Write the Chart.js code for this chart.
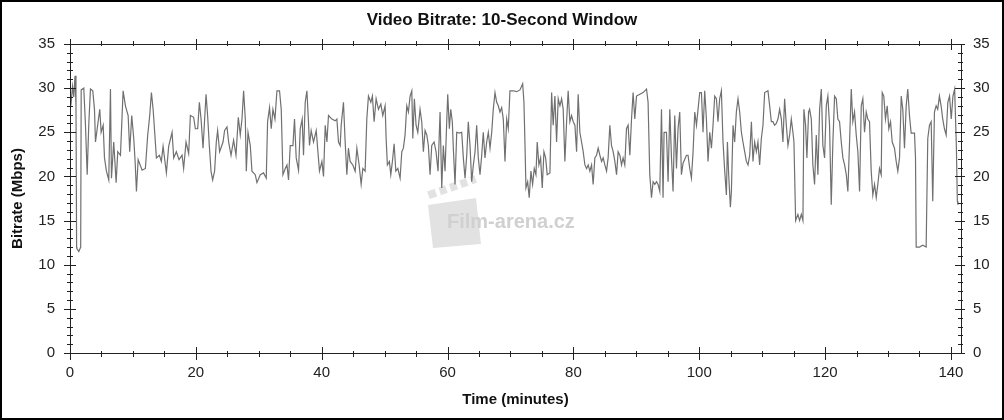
<!DOCTYPE html>
<html>
<head>
<meta charset="utf-8">
<title>Video Bitrate: 10-Second Window</title>
<script src="https://cdn.jsdelivr.net/npm/chart.js@4.4.1/dist/chart.umd.min.js"></script>
<style>
  html, body { margin: 0; padding: 0; background: #fff; }
  #wrap { width: 1004px; height: 420px; }
</style>
</head>
<body>
<div id="wrap"><canvas id="chart" width="1004" height="420"></canvas></div>
<script>
// time in minutes, bitrate in Mbps
const minutes = [
  0.0, 0.2, 0.4, 0.6, 0.8, 0.95, 1.05, 1.1, 1.4, 1.7,
  1.78, 2.19, 2.46, 2.73, 2.98, 3.25, 3.62, 3.89, 4.05, 4.32,
  4.73, 4.95, 5.27, 5.48, 5.79, 6.16, 6.43, 6.59, 6.95, 7.33,
  7.59, 8.02, 8.44, 8.81, 9.24, 9.49, 9.81, 10.13, 10.35, 10.56,
  10.83, 11.46, 11.98, 12.35, 12.67, 12.94, 13.21, 13.46, 13.73, 14.21,
  14.52, 14.79, 15.32, 15.68, 16.22, 16.48, 16.9, 17.33, 17.81, 18.06,
  18.44, 18.86, 19.13, 19.65, 19.92, 20.29, 20.56, 20.83, 21.14, 21.62,
  21.87, 22.14, 22.41, 22.67, 22.98, 23.25, 23.46, 23.78, 24.32, 24.57,
  24.95, 25.21, 25.59, 26.0, 26.38, 26.75, 27.06, 27.33, 27.59, 27.86,
  28.02, 28.29, 28.65, 28.92, 29.44, 29.71, 30.24, 30.76, 31.19, 31.4,
  31.71, 31.98, 32.25, 32.57, 32.89, 33.3, 33.57, 33.84, 34.21, 34.48,
  34.73, 35.0, 35.43, 35.68, 35.95, 36.32, 36.59, 36.9, 37.11, 37.38,
  37.65, 37.9, 38.06, 38.33, 38.7, 39.13, 39.4, 39.65, 40.03, 40.29,
  40.56, 40.83, 41.08, 41.62, 42.14, 42.41, 42.67, 42.94, 43.1, 43.46,
  43.73, 44.0, 44.25, 44.52, 44.95, 45.32, 45.59, 45.95, 46.27, 46.54,
  46.9, 47.17, 47.43, 47.81, 48.06, 48.33, 48.65, 49.02, 49.4, 49.71,
  50.08, 50.24, 50.44, 50.76, 50.98, 51.24, 51.51, 51.78, 52.1, 52.46,
  52.73, 52.98, 53.25, 53.52, 53.78, 54.05, 54.32, 54.48, 54.73, 55.0,
  55.27, 55.63, 55.9, 56.16, 56.43, 56.7, 56.95, 57.22, 57.49, 57.86,
  58.17, 58.49, 58.81, 59.08, 59.33, 59.6, 59.87, 60.03, 60.29, 60.51,
  60.76, 60.92, 61.19, 61.46, 61.87, 62.25, 62.51, 62.78, 63.05, 63.3,
  63.57, 63.84, 64.1, 64.37, 64.63, 64.89, 65.16, 65.43, 65.68, 65.95,
  66.22, 66.48, 66.75, 67.02, 67.27, 67.54, 67.81, 68.06, 68.33, 68.6,
  68.86, 69.13, 69.4, 69.65, 69.92, 70.44, 70.98, 71.51, 71.94, 72.14,
  72.3, 72.46, 72.73, 72.98, 73.25, 73.52, 73.78, 74.05, 74.25, 74.52,
  74.79, 75.05, 75.32, 75.59, 75.84, 76.27, 76.54, 76.79, 77.06, 77.33,
  77.59, 77.86, 78.13, 78.38, 78.65, 78.92, 79.17, 79.44, 79.71, 79.97,
  80.24, 80.51, 80.76, 81.03, 81.3, 81.56, 81.83, 82.1, 82.35, 82.62,
  82.89, 83.14, 83.41, 83.68, 83.94, 84.21, 84.48, 84.73, 85.0, 85.27,
  85.52, 85.79, 86.06, 86.32, 86.59, 86.86, 87.11, 87.38, 87.65, 87.9,
  88.17, 88.44, 88.7, 88.97, 89.24, 89.49, 89.76, 90.03, 90.56, 91.08,
  91.62, 91.87, 92.14, 92.41, 92.67, 92.94, 93.21, 93.46, 93.73, 94.0,
  94.25, 94.41, 94.79, 95.05, 95.32, 95.59, 95.84, 96.11, 96.38, 96.63,
  96.9, 97.17, 97.43, 97.97, 98.22, 98.49, 98.76, 99.02, 99.29, 99.56,
  99.81, 100.08, 100.35, 100.6, 100.87, 101.14, 101.4, 101.67, 101.94, 102.19,
  102.46, 102.73, 102.98, 103.25, 103.52, 103.78, 104.05, 104.32, 104.48, 104.68,
  104.95, 105.11, 105.37, 105.63, 105.9, 106.16, 106.43, 106.7, 106.95, 107.22,
  107.49, 107.75, 108.02, 108.29, 108.54, 108.81, 109.08, 109.33, 109.6, 109.87,
  110.13, 110.4, 110.92, 111.19, 111.46, 111.71, 111.98, 112.25, 112.51, 112.78,
  113.05, 113.3, 113.57, 113.84, 114.1, 114.37, 114.63, 114.89, 115.05, 115.32,
  115.68, 115.95, 116.22, 116.48, 116.63, 116.9, 117.11, 117.38, 117.54, 117.81,
  118.06, 118.33, 118.6, 118.86, 119.13, 119.4, 119.65, 119.92, 120.19, 120.44,
  120.71, 120.98, 121.24, 121.51, 121.78, 122.03, 122.3, 122.57, 122.83, 123.1,
  123.37, 123.62, 123.89, 124.16, 124.41, 124.68, 124.95, 125.21, 125.48, 125.75,
  126.0, 126.27, 126.54, 126.79, 127.06, 127.33, 127.59, 127.86, 128.13, 128.38,
  128.65, 128.92, 129.08, 129.33, 129.6, 129.87, 130.13, 130.4, 130.67, 131.03,
  131.3, 131.56, 131.83, 132.1, 132.35, 132.62, 132.89, 133.14, 133.41, 133.68,
  134.21, 134.37, 134.48, 135.0, 135.52, 136.06, 136.32, 136.59, 136.86, 137.11,
  137.38, 137.65, 137.9, 138.17, 138.44, 138.7, 138.97, 139.24, 139.51, 139.78,
  140.05, 140.32, 140.59, 140.86, 141.02, 141.11
];
const bitrate = [
  29.5, 28.5, 30.2, 29.0, 31.4, 28.0, 12.0, 11.8, 11.5, 12.0,
  29.8, 30.0, 25.8, 20.2, 25.8, 29.9, 29.7, 27.6, 23.9, 25.4,
  27.6, 25.0, 25.8, 22.1, 20.6, 19.6, 29.9, 19.8, 23.9, 19.3,
  22.8, 22.4, 29.7, 28.0, 26.9, 22.8, 26.9, 24.3, 21.7, 18.3,
  21.9, 20.7, 20.9, 24.7, 26.9, 29.5, 27.6, 25.0, 22.1, 22.4,
  21.7, 23.4, 20.4, 23.4, 25.0, 22.1, 22.8, 21.9, 22.4, 20.9,
  23.9, 22.6, 26.9, 26.7, 25.4, 25.4, 28.4, 26.5, 23.2, 29.3,
  26.9, 23.5, 20.6, 19.6, 20.6, 23.9, 25.2, 22.8, 23.9, 25.2,
  25.6, 23.9, 22.4, 24.1, 22.4, 26.7, 24.7, 26.5, 29.7, 26.5,
  20.6, 25.0, 23.5, 20.6, 20.2, 19.3, 20.2, 20.4, 19.8, 26.2,
  27.8, 25.4, 27.6, 26.5, 29.7, 29.7, 27.6, 20.2, 20.9, 21.3,
  19.6, 23.5, 23.5, 26.5, 22.1, 20.7, 25.4, 26.5, 22.4, 28.4,
  29.7, 26.2, 23.5, 25.2, 23.9, 25.2, 22.8, 20.6, 21.7, 20.0,
  25.8, 23.9, 26.9, 26.5, 26.3, 26.5, 23.9, 23.5, 25.8, 28.4,
  23.9, 20.2, 23.2, 21.7, 21.3, 20.6, 23.2, 21.3, 19.1, 20.9,
  20.6, 26.5, 29.1, 28.4, 29.1, 26.2, 28.8, 27.6, 28.2, 26.9,
  28.0, 24.3, 21.3, 21.7, 20.2, 21.7, 23.7, 20.6, 20.9, 19.8,
  22.8, 23.2, 24.7, 28.0, 27.3, 29.1, 29.7, 24.3, 28.8, 25.8,
  25.0, 27.6, 26.2, 22.8, 25.2, 24.7, 23.5, 20.2, 23.5, 23.9,
  22.8, 20.6, 27.3, 18.7, 23.5, 20.6, 26.2, 29.3, 25.4, 27.6,
  26.2, 23.2, 19.1, 25.0, 24.9, 25.0, 22.1, 19.8, 22.4, 26.2,
  23.5, 19.4, 21.3, 22.8, 25.8, 22.1, 20.2, 22.4, 25.0, 22.1,
  23.9, 25.0, 23.2, 25.0, 27.6, 29.5, 28.4, 28.0, 27.3, 27.8,
  26.5, 21.7, 26.5, 25.4, 29.7, 29.7, 29.6, 29.8, 30.5, 28.4,
  23.9, 18.7, 19.4, 17.6, 20.6, 19.1, 20.9, 20.2, 23.9, 21.3,
  22.1, 18.7, 22.8, 22.1, 20.2, 20.4, 29.5, 25.8, 29.1, 23.9,
  28.8, 28.0, 28.8, 27.6, 21.7, 26.2, 29.7, 26.2, 26.9, 26.2,
  25.8, 22.8, 29.3, 25.0, 23.9, 22.8, 21.3, 20.9, 21.3, 20.6,
  21.3, 19.1, 22.1, 22.4, 23.2, 22.4, 21.7, 22.1, 21.3, 20.6,
  22.1, 25.8, 23.5, 22.8, 21.7, 20.2, 22.8, 22.4, 21.3, 22.1,
  21.3, 25.4, 25.8, 22.4, 26.5, 29.5, 26.5, 29.1, 29.3, 29.5,
  29.9, 28.4, 20.2, 17.6, 19.4, 19.1, 19.4, 19.1, 18.3, 27.6,
  17.6, 25.0, 25.0, 19.4, 27.6, 22.1, 18.3, 26.9, 20.9, 25.4,
  27.3, 20.2, 21.5, 22.4, 22.4, 20.9, 19.8, 22.8, 27.3, 25.8,
  27.6, 29.5, 29.5, 25.0, 29.7, 26.5, 21.7, 25.0, 23.2, 25.8,
  29.1, 28.8, 26.2, 28.8, 29.7, 23.9, 20.6, 17.9, 23.9, 20.2,
  16.5, 18.3, 25.8, 23.9, 27.3, 28.8, 27.3, 25.0, 23.9, 22.8,
  21.7, 21.3, 22.4, 26.2, 21.7, 23.9, 22.8, 23.9, 21.3, 24.3,
  25.8, 29.5, 29.7, 28.0, 26.2, 26.2, 25.8, 26.0, 26.5, 27.6,
  26.5, 23.9, 28.8, 25.8, 23.5, 24.7, 26.5, 25.0, 23.9, 15.0,
  15.7, 15.0, 15.7, 15.0, 27.6, 25.8, 22.1, 27.3, 27.6, 26.5,
  21.3, 19.1, 24.7, 20.2, 27.6, 29.9, 23.5, 22.1, 28.0, 29.1,
  25.8, 16.8, 23.9, 29.1, 28.8, 26.5, 26.2, 23.9, 22.1, 21.3,
  20.2, 18.3, 23.9, 29.9, 26.2, 27.3, 24.7, 22.8, 18.3, 28.0,
  28.8, 25.0, 27.3, 26.5, 26.2, 20.6, 17.9, 19.1, 17.6, 19.1,
  20.9, 20.2, 29.5, 29.1, 26.5, 28.0, 25.4, 26.2, 23.9, 23.2,
  21.7, 20.6, 22.1, 29.1, 27.6, 23.2, 28.0, 29.9, 26.9, 24.9,
  24.9, 22.1, 12.0, 12.0, 12.2, 12.0, 24.3, 25.8, 26.2, 17.2,
  27.3, 28.0, 27.6, 29.1, 28.0, 26.5, 25.4, 24.7, 28.4, 29.1,
  26.5, 29.1, 29.9, 23.5, 17.2, 16.8
];
const xTickValues = [0, 20, 40, 60, 80, 100, 120, 140];
const yTickValues = [0, 5, 10, 15, 20, 25, 30, 35];

const FONT = "'Liberation Sans', Arial, sans-serif";

// box, crossing ticks, watermark and outer frame
const framePlugin = {
  id: 'frameTicks',
  beforeDatasetsDraw(chart) {
    const ctx = chart.ctx;
    ctx.save();
    ctx.fillStyle = '#e2e2e2';
    ctx.beginPath();
    ctx.moveTo(428, 205); ctx.lineTo(476, 198); ctx.lineTo(481, 244); ctx.lineTo(433, 248);
    ctx.closePath(); ctx.fill();
    ctx.save();
    ctx.translate(430, 200); ctx.rotate(-0.33);
    ctx.fillRect(0, -9, 50, 8);
    ctx.fillStyle = '#fff';
    for (let i = 0; i < 4; i++) ctx.fillRect(8 + i * 11, -9, 4, 8);
    ctx.restore();
    ctx.font = 'bold 20px ' + FONT;
    ctx.fillStyle = '#d0d0d0';
    ctx.textBaseline = 'alphabetic';
    ctx.fillText('Film-arena.cz', 447, 228);
    ctx.restore();
  },
  afterDraw(chart) {
    const {ctx, chartArea: a, scales} = chart;
    const x = scales.x, y = scales.y;
    ctx.save();
    ctx.strokeStyle = '#222';
    ctx.lineWidth = 1;
    ctx.strokeRect(Math.round(a.left) + 0.5, Math.round(a.top) + 0.5,
      Math.round(a.right - a.left), Math.round(a.bottom - a.top));
    ctx.beginPath();
    for (let v = 0; v <= 35; v++) {
      const py = Math.round(y.getPixelForValue(v)) + 0.5;
      const big = v % 5 === 0;
      const l = Math.round(a.left), r = Math.round(a.right);
      ctx.moveTo(l - (big ? 6 : 3), py); ctx.lineTo(l + (big ? 6 : 3), py);
      ctx.moveTo(r - (big ? 6 : 3), py); ctx.lineTo(r + (big ? 4 : 2), py);
    }
    for (let v = 0; v <= 140; v += 5) {
      const px = Math.round(x.getPixelForValue(v)) + 0.5;
      const big = v % 20 === 0;
      const b = Math.round(a.bottom), t = Math.round(a.top);
      ctx.moveTo(px, b - (big ? 6 : 2)); ctx.lineTo(px, b + (big ? 7 : 4));
      ctx.moveTo(px, t - (big ? 5 : 3)); ctx.lineTo(px, t + (big ? 6 : 2));
    }
    ctx.stroke();
    ctx.lineWidth = 2;
    ctx.strokeStyle = '#000';
    ctx.strokeRect(1, 1, chart.width - 2, chart.height - 2);
    ctx.restore();
  }
};

const tickFont = { family: FONT, size: 15 };
const titleFont = { family: FONT, size: 15, weight: 'bold' };

new Chart(document.getElementById('chart'), {
  type: 'line',
  data: {
    datasets: [{
      label: 'Bitrate',
      data: minutes.map((m, i) => ({ x: m, y: bitrate[i] })),
      borderColor: '#707070',
      borderWidth: 1.2,
      pointRadius: 0,
      tension: 0,
      fill: false
    }]
  },
  options: {
    responsive: false,
    animation: false,
    devicePixelRatio: 1,
    layout: { padding: 0 },
    plugins: {
      legend: { display: false },
      tooltip: { enabled: false },
      title: {
        display: true,
        text: 'Video Bitrate: 10-Second Window',
        color: '#111',
        font: { family: FONT, size: 17, weight: 'bold' },
        padding: { top: 10, bottom: 13.6 }
      }
    },
    scales: {
      x: {
        type: 'linear',
        min: 0,
        max: 141.6,
        afterBuildTicks: s => { s.ticks = xTickValues.map(v => ({ value: v })); },
        afterFit: s => { s.height = 67; },
        grid: { display: false, drawTicks: false },
        border: { display: false },
        ticks: { font: tickFont, color: '#222', padding: 11, maxRotation: 0, autoSkip: false },
        title: { display: true, text: 'Time (minutes)', font: titleFont, color: '#111', padding: { top: 0, bottom: 11 } }
      },
      y: {
        position: 'left',
        min: 0,
        max: 35,
        afterBuildTicks: s => { s.ticks = yTickValues.map(v => ({ value: v })); },
        afterFit: s => { s.width = 70; },
        grid: { display: false, drawTicks: false },
        border: { display: false },
        ticks: { font: tickFont, color: '#222', padding: 15 },
        title: { display: true, text: 'Bitrate (Mbps)', font: titleFont, color: '#111', padding: { top: 9, bottom: 0 } }
      },
      y2: {
        position: 'right',
        min: 0,
        max: 35,
        afterBuildTicks: s => { s.ticks = yTickValues.map(v => ({ value: v })); },
        afterFit: s => { s.width = 43; },
        grid: { display: false, drawTicks: false },
        border: { display: false },
        ticks: { font: tickFont, color: '#222', padding: 12 }
      }
    }
  },
  plugins: [framePlugin]
});
</script>
</body>
</html>
